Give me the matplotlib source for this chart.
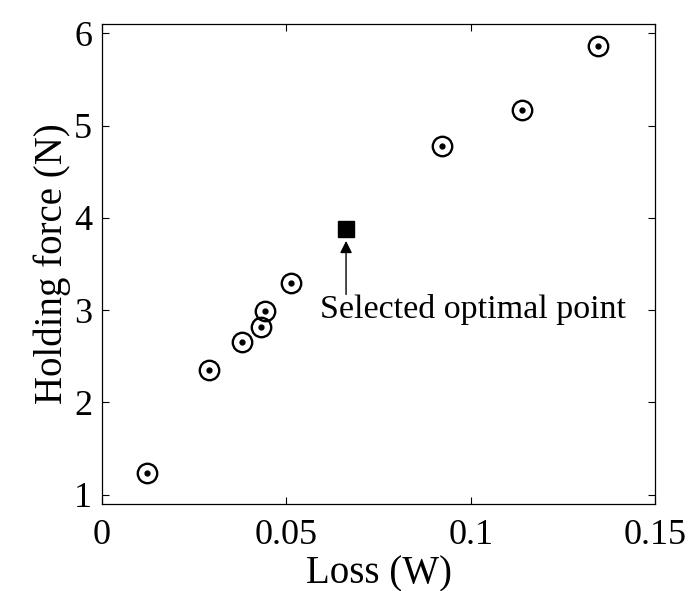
import numpy as np
import matplotlib.pyplot as plt

plt.rcParams['font.family'] = ['Liberation Serif', 'DejaVu Serif']

# Pareto points
loss = [0.0122, 0.0289, 0.0381, 0.0432, 0.0443, 0.0513, 0.0922, 0.1138, 0.1345]
force = [1.24, 2.35, 2.66, 2.82, 2.99, 3.29, 4.78, 5.17, 5.86]

# selected optimum
opt_loss = 0.0662
opt_force = 3.88

fig = plt.figure(figsize=(6.95, 5.91), dpi=100)
ax = fig.add_axes([102/695, 87/591, 553/695, 480/591])

ax.plot(loss, force, 'o', ms=14, mfc='none', mec='black', mew=1.7)
ax.plot(loss, force, '.', ms=7, color='black')
ax.plot([opt_loss], [opt_force], 's', ms=11, color='black')

# arrow pointing up at the selected point
ax.annotate('', xy=(opt_loss, 3.75), xytext=(opt_loss, 3.17),
            arrowprops=dict(arrowstyle='-|>', color='black', lw=1.0,
                            mutation_scale=18, shrinkA=0, shrinkB=0))
ax.text(0.0592, 2.92, 'Selected optimal point', ha='left', va='baseline',
        fontsize=24.5)

ax.set_xlim(0, 0.149)
ax.set_ylim(0.9, 6.1)
ax.set_xticks([0, 0.05, 0.1, 0.15])
ax.set_xticklabels(['0', '0.05', '0.1', '0.15'])
ax.set_yticks([1, 2, 3, 4, 5, 6])
ax.tick_params(direction='in', length=5, width=0.8, top=True, right=True,
               labelsize=26)
ax.tick_params(axis='x', pad=11)
ax.tick_params(axis='y', pad=7)
ax.set_xlabel('Loss (W)', fontsize=28, labelpad=2)
ax.set_ylabel('Holding force (N)', fontsize=28, labelpad=2)
for s in ax.spines.values():
    s.set_linewidth(0.9)

plt.savefig('out.png', dpi=100)
